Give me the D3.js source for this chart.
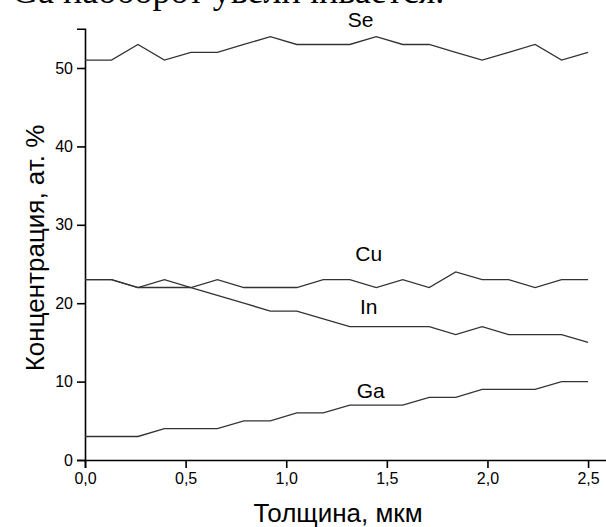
<!DOCTYPE html>
<html>
<head>
<meta charset="utf-8">
<script src="https://cdn.jsdelivr.net/npm/d3@7"></script>
<style>
  body { margin: 0; background: #fff; }
  svg { display: block; }
  text { font-family: Arial, "Liberation Sans", sans-serif; fill: #000; }
</style>
</head>
<body>
<svg id="chart" width="606" height="527"></svg>
<script>
// thickness, um (20 measurement points)
var thickness = d3.range(20).map(function(i) { return +(i * 2.5 / 19).toFixed(4); });

var se = [51, 51, 53, 51, 52, 52, 53, 54, 53, 53, 53, 54, 53, 53, 52, 51, 52, 53, 51, 52];
var cu = [23, 23, 22, 22, 22, 23, 22, 22, 22, 23, 23, 22, 23, 22, 24, 23, 23, 22, 23, 23];
var inn = [23, 23, 22, 23, 22, 21, 20, 19, 19, 18, 17, 17, 17, 17, 16, 17, 16, 16, 16, 15];
var ga = [3, 3, 3, 4, 4, 4, 5, 5, 6, 6, 7, 7, 7, 8, 8, 9, 9, 9, 10, 10];

var seriesNames = ['Se', 'Cu', 'In', 'Ga'];
var seriesValues = [se, cu, inn, ga];

var xMajor = [0, 0.5, 1.0, 1.5, 2.0, 2.5];
var xMinor = [0.25, 0.75, 1.25, 1.75, 2.25];
var yMajor = [0, 10, 20, 30, 40, 50];
var yMinor = [5, 15, 25, 35, 45, 55];

var svg = d3.select('#chart');

var x = d3.scaleLinear().domain([0, 2.6]).range([85, 608.2]);
var y = d3.scaleLinear().domain([0, 55]).range([460, 28.8]);

var comma = function(d) { return d3.format('.1f')(d).replace('.', ','); };

// cut-off line of text from the page above the figure
svg.append('text')
  .attr('x', 12)
  .attr('y', 3)
  .style('font-family', '"Liberation Serif", "Times New Roman", serif')
  .style('font-size', '36px')
  .text('Ga наоборот увеличивается.');

// x axis
var gx = svg.append('g').attr('transform', 'translate(0,' + y(0) + ')');
gx.call(d3.axisBottom(x).tickValues(xMinor).tickSize(5).tickFormat(''));
gx.call(d3.axisBottom(x).tickValues(xMajor).tickSize(8).tickPadding(5).tickFormat(comma));

// y axis
var gy = svg.append('g').attr('transform', 'translate(' + x(0) + ',0)');
gy.call(d3.axisLeft(y).tickValues(yMinor).tickSize(5).tickFormat(''));
gy.call(d3.axisLeft(y).tickValues(yMajor).tickSize(8).tickPadding(4).tickFormat(d3.format('d')));

svg.selectAll('.domain').attr('stroke', '#000').attr('stroke-width', 1.6);
svg.selectAll('.tick line').attr('stroke', '#000').attr('stroke-width', 1.6);
svg.selectAll('.tick text').style('font-size', '16px').style('font-family', 'Arial, "Liberation Sans", sans-serif');

// lines
var line = d3.line()
  .x(function(d, i) { return x(thickness[i]); })
  .y(function(d) { return y(d); });

svg.selectAll('path.series')
  .data(seriesValues)
  .enter().append('path')
    .attr('class', 'series')
    .attr('fill', 'none')
    .attr('stroke', '#333')
    .attr('stroke-width', 1.3)
    .attr('d', line);

// series labels
var labelPos = [
  { name: 'Se', x: 1.37, y: 55.2 },
  { name: 'Cu', x: 1.41, y: 25.4 },
  { name: 'In', x: 1.41, y: 18.6 },
  { name: 'Ga', x: 1.42, y: 7.9 }
];
svg.selectAll('text.label')
  .data(labelPos)
  .enter().append('text')
    .attr('class', 'label')
    .attr('x', function(d) { return x(d.x); })
    .attr('y', function(d) { return y(d.y); })
    .attr('text-anchor', 'middle')
    .style('font-size', '21px')
    .text(function(d) { return d.name; });

// axis titles
svg.append('text')
  .attr('x', 338)
  .attr('y', 522)
  .attr('text-anchor', 'middle')
  .style('font-size', '26px')
  .text('Толщина, мкм');

svg.append('text')
  .attr('transform', 'translate(44,248) rotate(-90)')
  .attr('text-anchor', 'middle')
  .style('font-size', '26px')
  .text('Концентрация, ат. %');
</script>
</body>
</html>
